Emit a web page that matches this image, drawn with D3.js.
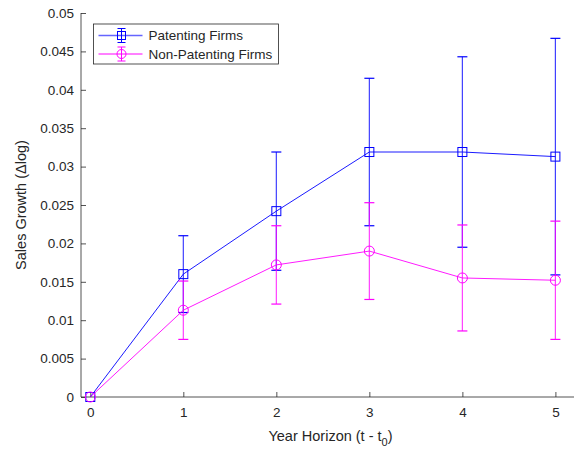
<!DOCTYPE html>
<html>
<head>
<meta charset="utf-8">
<script src="https://cdn.jsdelivr.net/npm/d3@7"></script>
<style>
  body { margin: 0; background: #fff; }
  svg text { font-family: "Liberation Sans", Arial, sans-serif; fill: #262626; }
</style>
</head>
<body>
<div id="chart"></div>
<script>
// horizon years and the two series (mean, half-width of error bar)
var years = [0, 1, 2, 3, 4, 5];
var patMean = [0, 0.0160, 0.0242, 0.0319, 0.0319, 0.0313];
var patErr = [0, 0.0050, 0.0077, 0.0096, 0.0124, 0.0154];
var nonMean = [0, 0.0113, 0.0172, 0.0190, 0.0155, 0.0152];
var nonErr = [0, 0.0038, 0.0051, 0.0063, 0.0069, 0.0077];
var yTicks = [0, 0.005, 0.01, 0.015, 0.02, 0.025, 0.03, 0.035, 0.04, 0.045, 0.05];
var seriesNames = ["Patenting Firms", "Non-Patenting Firms"];
var seriesColors = ["#0000ff", "#ff00ff"];

var width = 577, height = 450;
var margin = { top: 13, right: 3, bottom: 53, left: 81 };

var svg = d3.select("#chart").append("svg")
    .attr("width", width)
    .attr("height", height);

var x = d3.scaleLinear().domain([-0.1, 5.2]).range([margin.left, width - margin.right]);
var y = d3.scaleLinear().domain([0, 0.05]).range([height - margin.bottom, margin.top]);

// axes, MATLAB style: ticks point inward, no box
var yAxis = d3.axisLeft(y).tickValues(yTicks).tickSize(-5).tickPadding(7)
    .tickFormat(function(d) { return String(+d.toFixed(3)); });
var gy = svg.append("g")
    .attr("transform", "translate(" + margin.left + ",0)")
    .call(yAxis);

var xAxis = d3.axisBottom(x).tickValues(years).tickSize(-5).tickPadding(10)
    .tickFormat(function(d) { return String(d); });
var gx = svg.append("g")
    .attr("transform", "translate(0," + (height - margin.bottom) + ")")
    .call(xAxis);

[gx, gy].forEach(function(g) {
    g.select(".domain").attr("stroke", "#262626").attr("stroke-width", 0.8);
    g.selectAll(".tick line").attr("stroke", "#262626").attr("stroke-width", 0.8);
    g.selectAll(".tick text").style("font-size", "13.5px").attr("fill", "#262626");
});
gx.select(".domain").attr("d", "M" + margin.left + ",0H" + (width - margin.right));
gy.select(".domain").attr("d", "M0," + (height - margin.bottom) + "V" + margin.top);

// axis labels
var ylab = svg.append("text")
    .attr("transform", "translate(26," + ((margin.top + height - margin.bottom) / 2) + ") rotate(-90)")
    .attr("text-anchor", "middle")
    .style("font-size", "14.5px");
ylab.text("Sales Growth (\u0394log)");

var xlab = svg.append("text")
    .attr("x", (margin.left + width - margin.right) / 2 + 3)
    .attr("y", 441)
    .attr("text-anchor", "middle")
    .style("font-size", "14.5px");
xlab.append("tspan").text("Year Horizon (t - t");
xlab.append("tspan").attr("dy", 5).style("font-size", "11px").text("0");
xlab.append("tspan").attr("dy", -5).text(")");

function drawSeries(means, errs, color, marker) {
    var pts = years.map(function(t, i) { return { t: t, m: means[i], e: errs[i] }; });
    var g = svg.append("g");

    // error bars
    pts.forEach(function(p) {
        if (p.e === 0) return;
        var cx = x(p.t);
        g.append("line").attr("x1", cx).attr("x2", cx)
            .attr("y1", y(p.m - p.e)).attr("y2", y(p.m + p.e))
            .attr("stroke", color).attr("stroke-width", 1.2).attr("opacity", 0.75);
        [p.m - p.e, p.m + p.e].forEach(function(v) {
            g.append("line").attr("x1", cx - 5).attr("x2", cx + 5)
                .attr("y1", y(v)).attr("y2", y(v))
                .attr("stroke", color).attr("stroke-width", 1.2);
        });
    });

    // line
    g.append("path").datum(pts)
        .attr("d", d3.line().x(function(d) { return x(d.t); }).y(function(d) { return y(d.m); }))
        .attr("fill", "none").attr("stroke", color).attr("stroke-width", 0.9);

    // markers
    if (marker === "square") {
        g.selectAll("rect.mk").data(pts).enter().append("rect")
            .attr("x", function(d) { return x(d.t) - 4.5; })
            .attr("y", function(d) { return y(d.m) - 4.5; })
            .attr("width", 9).attr("height", 9)
            .attr("fill", "none").attr("stroke", color).attr("stroke-width", 1);
    } else {
        g.selectAll("circle.mk").data(pts).enter().append("circle")
            .attr("cx", function(d) { return x(d.t); })
            .attr("cy", function(d) { return y(d.m); })
            .attr("r", 5)
            .attr("fill", "none").attr("stroke", color).attr("stroke-width", 1);
    }
}

drawSeries(patMean, patErr, seriesColors[0], "square");
drawSeries(nonMean, nonErr, seriesColors[1], "circle");

// legend
var leg = svg.append("g").attr("transform", "translate(93.5,24)");
leg.append("rect").attr("width", 185).attr("height", 40)
    .attr("fill", "#fff").attr("stroke", "#262626").attr("stroke-width", 0.8);
seriesNames.forEach(function(name, i) {
    var cy = 11.5 + i * 18.5;
    var c = seriesColors[i];
    var row = leg.append("g");
    row.append("line").attr("x1", 5).attr("x2", 49).attr("y1", cy).attr("y2", cy)
        .attr("stroke", c).attr("stroke-width", i === 0 ? 1.6 : 1).attr("opacity", i === 0 ? 0.6 : 1);
    row.append("line").attr("x1", 28).attr("x2", 28).attr("y1", cy - 7).attr("y2", cy + 7)
        .attr("stroke", c).attr("stroke-width", 1);
    [cy - 7, cy + 7].forEach(function(v) {
        row.append("line").attr("x1", 24).attr("x2", 32).attr("y1", v).attr("y2", v)
            .attr("stroke", c).attr("stroke-width", 1);
    });
    if (i === 0) {
        row.append("rect").attr("x", 24).attr("y", cy - 4).attr("width", 8).attr("height", 8)
            .attr("fill", "none").attr("stroke", c);
    } else {
        row.append("circle").attr("cx", 28).attr("cy", cy).attr("r", 4.5)
            .attr("fill", "none").attr("stroke", c);
    }
    row.append("text").attr("x", 55).attr("y", cy + 4.5)
        .style("font-size", "13.5px").text(name);
});
</script>
</body>
</html>
